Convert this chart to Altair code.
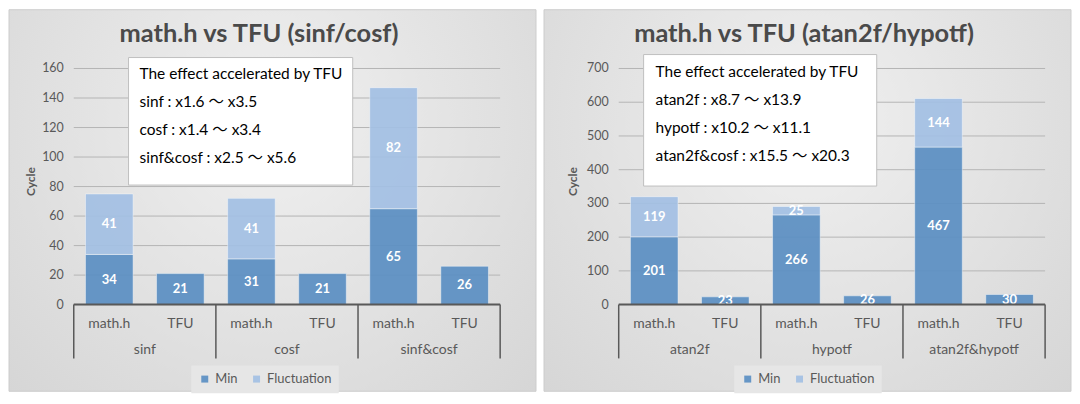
import altair as alt
import pandas as pd

# ---------------- data ----------------
impls = ["math.h", "TFU"]
series = ["Min", "Fluctuation"]
series_colors = ["#5b8fc3", "#a3c0e4"]

left_title = "math.h vs TFU (sinf/cosf)"
left_groups = ["sinf", "cosf", "sinf&cosf"]
left_min = [34, 21, 31, 21, 65, 26]
left_fluct = [41, 0, 41, 0, 82, 0]
left_yticks = [0, 20, 40, 60, 80, 100, 120, 140, 160]
left_note = [
    "The effect accelerated by TFU",
    "sinf : x1.6 〜 x3.5",
    "cosf : x1.4 〜 x3.4",
    "sinf&cosf : x2.5 〜 x5.6",
]

right_title = "math.h vs TFU (atan2f/hypotf)"
right_groups = ["atan2f", "hypotf", "atan2f&hypotf"]
right_min = [201, 23, 266, 26, 467, 30]
right_fluct = [119, 0, 25, 0, 144, 0]
right_yticks = [0, 100, 200, 300, 400, 500, 600, 700]
right_note = [
    "The effect accelerated by TFU",
    "atan2f : x8.7 〜 x13.9",
    "hypotf : x10.2 〜 x11.1",
    "atan2f&cosf : x15.5 〜 x20.3",
]
y_title = "Cycle"

# ---------------- styling ----------------
FONT = "Lato, 'Noto Sans CJK JP', sans-serif"
W, H = 428, 237
AXIS_GRAY = "#595959"

bg_gradient = alt.RadialGradient(
    gradient="radial",
    stops=[alt.GradientStop(color="#f0f0f0", offset=0),
           alt.GradientStop(color="#d1d1d1", offset=1)],
    x1=0.5, y1=0.35, x2=0.5, y2=0.35, r1=0, r2=0.85,
)


def one_row():
    return alt.Data(values=[{}])


def panel(title, groups, mins, flucts, yticks, note, geo):
    rows = []
    cats = []
    for gi, g in enumerate(groups):
        for ii, imp in enumerate(impls):
            k = gi * len(impls) + ii
            cats.append({"idx": k, "impl": imp})
            for si, (s, v) in enumerate(zip(series, [mins[k], flucts[k]])):
                if v > 0:
                    rows.append({"idx": k, "group": g, "impl": imp,
                                 "series": s, "order": si, "value": v})
    df = pd.DataFrame(rows)
    cat_df = pd.DataFrame(cats)
    grp_df = pd.DataFrame({"g": list(range(len(groups))), "group": groups})
    sep_df = pd.DataFrame({"b": [i * len(impls) for i in range(len(groups) + 1)]})
    tick_df = pd.DataFrame({"tick": yticks, "label": [str(v) for v in yticks]})

    nb = len(groups) * len(impls)
    xscale = alt.Scale(domain=[0, nb], nice=False, zero=False)
    yscale = alt.Scale(domain=[yticks[0], yticks[-1]], nice=False)

    bg = alt.Chart(one_row()).mark_rect(
        fill=bg_gradient, stroke="#cdcdcd", strokeWidth=1
    ).encode(
        x=alt.value(geo["bx0"]), x2=alt.value(geo["bx1"]),
        y=alt.value(geo["by0"]), y2=alt.value(geo["by1"]),
    )

    grid = alt.Chart(tick_df).mark_rule(color="#b5b5b5", strokeWidth=1).encode(
        y=alt.Y("tick:Q", scale=yscale, axis=None),
    )

    tick_labels = alt.Chart(tick_df).mark_text(
        font=FONT, fontSize=12.5, color=AXIS_GRAY, align="right", baseline="middle"
    ).encode(
        y=alt.Y("tick:Q", scale=yscale, axis=None),
        x=alt.value(-10),
        text="label:N",
    )

    ytitle = alt.Chart(one_row()).mark_text(
        text=y_title, font=FONT, fontSize=12, fontWeight="bold", color=AXIS_GRAY,
        angle=270, align="center", baseline="middle",
    ).encode(x=alt.value(geo["ytx"]), y=alt.value(H / 2 - 5))

    base = alt.Chart(df).transform_stack(
        stack="value", groupby=["idx"], sort=[alt.SortField("order")], as_=["v0", "v1"]
    ).transform_calculate(
        xa="datum.idx + 0.165", xb="datum.idx + 0.835",
        xm="datum.idx + 0.5", mid="(datum.v0 + datum.v1) / 2",
    )

    bars = base.mark_bar(opacity=0.92, stroke="white", strokeOpacity=0.45,
                         strokeWidth=1).encode(
        x=alt.X("xa:Q", scale=xscale, axis=None),
        x2="xb:Q",
        y=alt.Y("v0:Q", scale=yscale, axis=None),
        y2="v1:Q",
        color=alt.Color("series:N", scale=alt.Scale(domain=series, range=series_colors),
                        legend=alt.Legend(
                            orient="none", legendX=geo["lx"], legendY=geo["ly"],
                            direction="horizontal", title=None,
                            symbolType="square", symbolSize=49, symbolStrokeWidth=0,
                            symbolOpacity=0.92,
                            labelFont=FONT, labelFontSize=13, labelColor=AXIS_GRAY,
                            labelOffset=4, columnPadding=12,
                            fillColor="#e6e6e6", padding=7,
                        )),
    )

    vlabels = base.mark_text(font=FONT, fontSize=13, fontWeight="bold",
                             color="white", baseline="middle").encode(
        x=alt.X("xm:Q", scale=xscale, axis=None),
        y=alt.Y("mid:Q", scale=yscale, axis=None),
        text="value:Q",
    )

    axis_line = alt.Chart(one_row()).mark_rule(color=AXIS_GRAY, strokeWidth=2).encode(
        y=alt.datum(0), x=alt.value(0), x2=alt.value(W),
    )

    seps = alt.Chart(sep_df).mark_rule(color=AXIS_GRAY, strokeWidth=1.5).encode(
        x=alt.X("b:Q", scale=xscale, axis=None),
        y=alt.value(H), y2=alt.value(H + 54),
    )

    cat_labels = alt.Chart(cat_df).transform_calculate(xm="datum.idx + 0.5").mark_text(
        font=FONT, fontSize=14, color=AXIS_GRAY, baseline="middle"
    ).encode(
        x=alt.X("xm:Q", scale=xscale, axis=None), y=alt.value(H + 19), text="impl:N",
    )

    grp_labels = alt.Chart(grp_df).transform_calculate(
        xm=f"datum.g * {len(impls)} + {len(impls) / 2}"
    ).mark_text(font=FONT, fontSize=14, color=AXIS_GRAY, baseline="middle").encode(
        x=alt.X("xm:Q", scale=xscale, axis=None), y=alt.value(H + 46), text="group:N",
    )

    title_mark = alt.Chart(one_row()).mark_text(
        text=title, font=FONT, fontSize=25.5, fontWeight="bold", color="#4a4a4a",
        align="center", baseline="middle",
    ).encode(x=alt.value(geo["tx"]), y=alt.value(-35))

    note_box = alt.Chart(one_row()).mark_rect(
        fill="white", stroke="#bfbfbf", strokeWidth=1
    ).encode(
        x=alt.value(geo["nx0"]), x2=alt.value(geo["nx1"]),
        y=alt.value(geo["ny0"]), y2=alt.value(geo["ny1"]),
    )

    note_text = alt.Chart(one_row()).mark_text(
        text="\n".join(note), lineBreak="\n", lineHeight=28,
        font=FONT, fontSize=15.5, color="black", align="left", baseline="top",
    ).encode(x=alt.value(geo["ntx"]), y=alt.value(geo["nty"]))

    return alt.layer(
        bg, grid, tick_labels, ytitle, bars, vlabels, axis_line, seps,
        cat_labels, grp_labels, title_mark, note_box, note_text,
    ).properties(width=W, height=H)


left_geo = dict(bx0=-65, bx1=464, by0=-59, by1=324, lx=118, ly=298, tx=186, ytx=-43,
                nx0=55, nx1=280, ny0=-11, ny1=117, ntx=66, nty=-1)
right_geo = dict(bx0=-75, bx1=454, by0=-59, by1=324, lx=116, ly=298, tx=186, ytx=-46,
                 nx0=25, nx1=259, ny0=-14, ny1=118, ntx=37, nty=-3)

left = panel(left_title, left_groups, left_min, left_fluct, left_yticks, left_note, left_geo)
right = panel(right_title, right_groups, right_min, right_fluct, right_yticks, right_note, right_geo)

chart = alt.hconcat(left, right, spacing=6).resolve_scale(
    color="independent"
).properties(padding=0, background="white").configure_view(stroke=None)

chart.save("out.html", embed_options={"renderer": "svg", "actions": False})
